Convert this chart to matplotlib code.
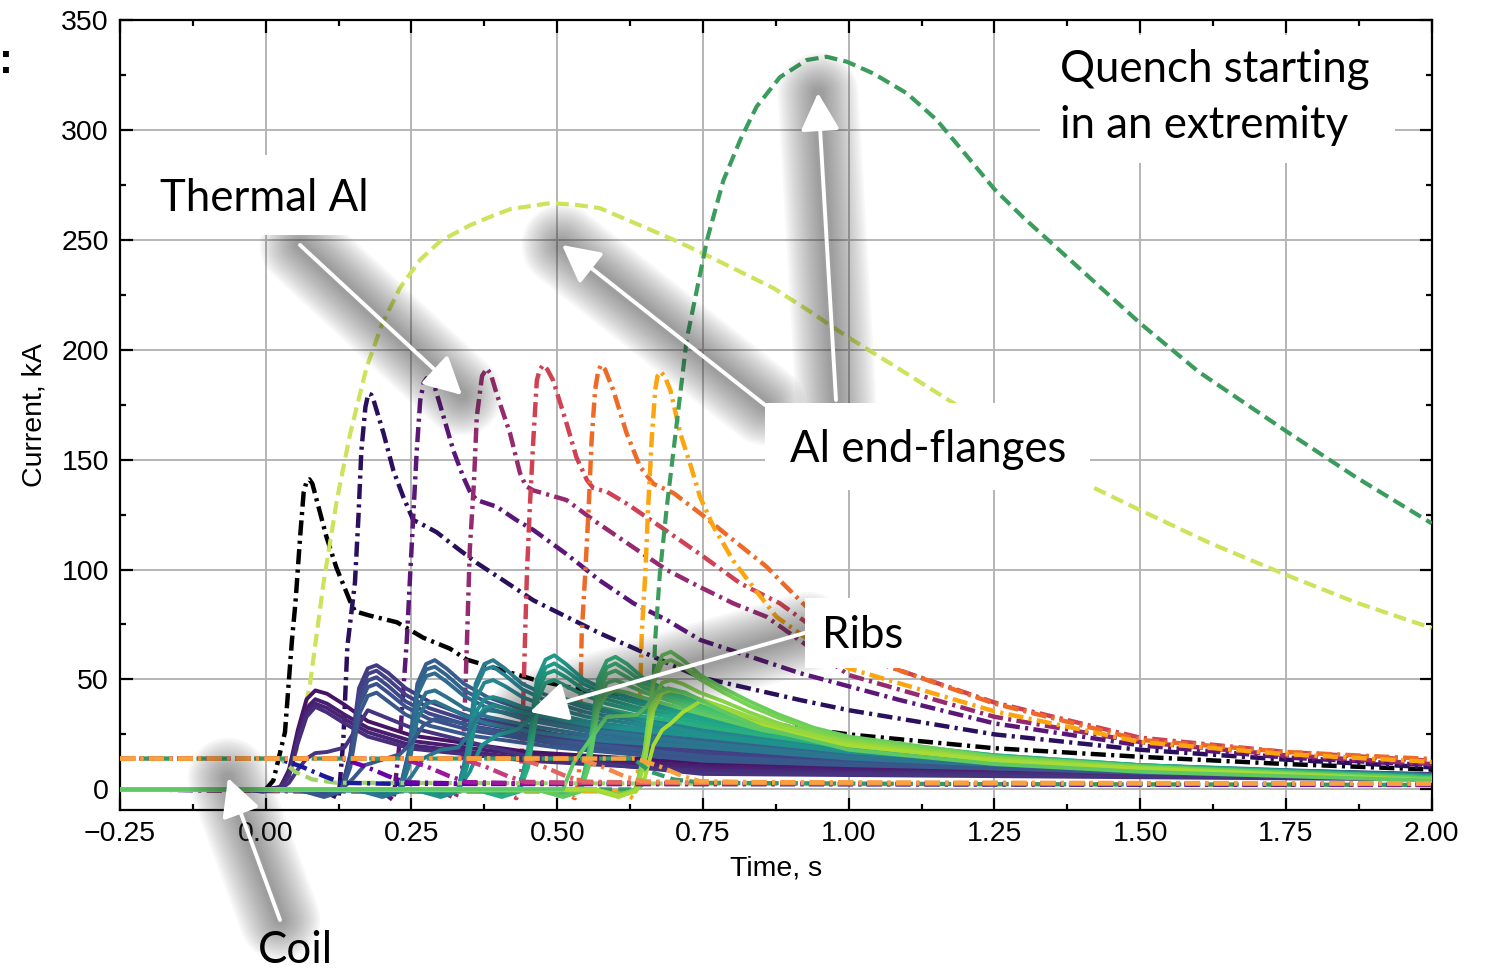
import matplotlib
matplotlib.use("Agg")
import matplotlib.pyplot as plt
from matplotlib.lines import Line2D
from matplotlib.patches import Rectangle
from matplotlib.ticker import MultipleLocator, FuncFormatter

# ---------------- data ----------------
# thermal Al, dash-dot curves
black_t = [-0.25, 0.0, 0.013, 0.033, 0.045, 0.051, 0.059, 0.065, 0.070, 0.075, 0.080, 0.087, 0.104, 0.121,
           0.144, 0.153, 0.179, 0.225, 0.27, 0.316, 0.345, 0.459, 0.545, 0.75, 0.86, 1.0, 1.25, 1.5, 1.75, 2.0]
black_i = [0, 0, 4, 26, 68, 85, 115, 135, 140, 141, 139, 132, 115, 101,
           86, 81, 79, 76, 69, 64, 59, 50, 45, 35, 30, 25, 18.7, 14.8, 11.5, 9]
indigo_t = [-0.25, 0.1, 0.125, 0.133, 0.14, 0.153, 0.159, 0.164, 0.171, 0.176, 0.181, 0.185, 0.202, 0.219,
            0.236, 0.253, 0.265, 0.293, 0.327, 0.362, 0.408, 0.459, 0.516, 0.573, 0.745, 0.917, 1.0, 1.25,
            1.5, 1.75, 2.0]
indigo_i = [0, -1, -4, 22, 65, 94, 124, 154, 174, 180, 179.5, 177, 162, 145,
            133, 122.5, 121, 117, 110, 103, 95, 86, 78.5, 71, 51, 40.6, 36, 25,
            18, 13.5, 10]
purple_t = [-0.25, 0.2, 0.219, 0.23, 0.242, 0.247, 0.253, 0.259, 0.265, 0.271, 0.276, 0.282, 0.29, 0.305,
            0.322, 0.339, 0.351, 0.362, 0.396, 0.43, 0.459, 0.516, 0.573, 0.631, 0.688, 0.745, 0.917, 1.088,
            1.25, 1.5, 1.75, 2.0]
purple_i = [0, -1, -5, 22, 68, 94, 124, 154, 177, 185, 187, 186, 183, 169.5,
            154, 142, 135, 131.6, 128.6, 122.5, 118, 107, 95, 84.6, 77, 68, 52.8, 40.6,
            30, 20, 14.5, 11]
magenta_t = [-0.25, 0.3, 0.325, 0.335, 0.339, 0.345, 0.35, 0.357, 0.362, 0.371, 0.379, 0.386, 0.396, 0.419,
             0.436, 0.446, 0.459, 0.476, 0.516, 0.562, 0.631, 0.688, 0.745, 0.802, 0.859, 1.0, 1.25, 1.5,
             1.75, 2.0]
magenta_i = [0, -1, -4, 3, 18, 66, 109, 139, 169.5, 188, 191.5, 189, 180, 162,
             144, 138, 136, 134.7, 131.6, 122.5, 110, 99.8, 92, 84.6, 78.5, 52, 33, 21.5,
             15.5, 11.5]
red_t = [-0.25, 0.41, 0.43, 0.438, 0.445, 0.448, 0.453, 0.459, 0.465, 0.47, 0.476, 0.483, 0.493, 0.516,
         0.533, 0.551, 0.562, 0.585, 0.619, 0.677, 0.745, 0.814, 0.882, 1.0, 1.25, 1.5, 1.75, 2.0]
red_i = [0, -1, -4, 4, 71, 98, 128.6, 159, 186, 191, 193, 191, 186, 166.5,
         151, 140.7, 137, 135.4, 130, 119.5, 107, 93.7, 84.6, 62, 39.5, 23.5, 17, 13]
orange_t = [-0.25, 0.51, 0.53, 0.537, 0.542, 0.548, 0.554, 0.559, 0.565, 0.57, 0.575, 0.582, 0.596, 0.619,
            0.642, 0.656, 0.665, 0.7, 0.745, 0.802, 0.859, 0.882, 1.0, 1.088, 1.25, 1.5, 1.75, 2.0]
orange_i = [0, -1, -4, 4, 71, 98, 128.6, 159, 181.7, 190, 193, 191, 181.7, 162,
            146.8, 142, 139, 134.7, 125.6, 113.4, 101.3, 95, 64, 54, 39, 22.5, 17, 13.8]
amber_t = [-0.25, 0.61, 0.63, 0.638, 0.645, 0.651, 0.656, 0.662, 0.668, 0.672, 0.677, 0.684, 0.694, 0.711,
           0.728, 0.745, 0.768, 0.802, 0.836, 0.876, 1.0, 1.25, 1.5, 1.75, 2.0]
amber_i = [0, -1, -4, 4, 71, 98, 128.6, 159, 181.7, 188, 190, 188, 181.7, 162,
           148, 133, 119.5, 104, 92, 78.5, 55, 35.5, 21.5, 16, 12.5]

# Al end-flanges, dashed curves
lime_t = [-0.25, 0.02, 0.035, 0.053, 0.076, 0.099, 0.122, 0.145, 0.173, 0.2, 0.23, 0.265, 0.3, 0.35, 0.39,
          0.42, 0.488, 0.53, 0.573, 0.642, 0.7, 0.75, 0.81, 0.871, 0.93, 0.997, 1.1, 1.19, 1.3, 1.414, 1.5,
          1.62, 1.75, 1.87, 2.0]
lime_i = [0, 0, 5, 18, 48, 93.7, 131.6, 162, 192, 212, 228, 241, 249.5, 256.6, 261,
          264, 266.7, 266, 264.4, 256.6, 250, 243.8, 236, 228, 218, 206, 189, 174, 156, 138, 127,
          112, 97.6, 85, 73.4]
green_t = [-0.25, 0.635, 0.645, 0.659, 0.665, 0.668, 0.676, 0.688, 0.705, 0.722, 0.757, 0.785, 0.814, 0.842,
           0.882, 0.928, 0.962, 0.997, 1.042, 1.1, 1.151, 1.2, 1.25, 1.3, 1.4, 1.5, 1.6, 1.75, 1.87, 2.0]
green_i = [0, 0, 2, 17.9, 46.7, 68, 98, 128.6, 166.5, 204.5, 250, 277, 295.5, 310.6,
           324, 331.8, 333.3, 331, 325.7, 316.6, 304.5, 289, 273, 260, 236, 212, 190, 163, 142, 121]

# ribs, solid curves (7 groups of 5)
g0_t = [-0.25, -0.045, -0.005, 0.025, 0.04, 0.055, 0.07, 0.085, 0.105, 0.135, 0.175, 0.25, 0.45, 0.75, 1.0, 1.25, 1.5, 2.0]
g0_i = [[0, 0, 0, 1, 9, 27, 41, 45, 43.5, 38.5, 31, 24.5, 17, 12, 10.5, 9, 8, 6.5],
        [0, 0, -0.5, 1, 8, 25, 37, 41, 39, 34, 28, 22, 15.5, 10.5, 9.5, 8.5, 7.5, 6],
        [0, 0, -0.5, 0.5, 7, 23, 35, 39, 37, 32, 26, 20, 14, 9.5, 8.5, 7.5, 7, 5.5],
        [0, 0, -1, 0.5, 6, 21, 33, 37.5, 35, 30, 24, 18.5, 13, 8.5, 7.5, 7, 6.5, 5],
        [0, 0, -1, 0, 3, 9, 14, 16.5, 17, 19, 36, 28, 15, 7, 6.5, 6, 5.5, 4.5]]
g1_t = [-0.25, 0.06, 0.1, 0.13, 0.145, 0.16, 0.175, 0.19, 0.21, 0.24, 0.28, 0.35, 0.5, 0.75, 1.0, 1.25, 1.5, 2.0]
g1_i = [[0, 0, -2, 0, 16, 46, 55, 56.5, 53, 46, 40, 33, 25, 18, 14.5, 12, 10, 7],
        [0, 0, -2.5, 0, 15, 44, 52.5, 54, 50, 43, 37, 31, 23.5, 16.5, 13.5, 11.5, 9.5, 6.5],
        [0, 0, -3, -0.5, 13, 41, 49.5, 51, 47, 40, 34.5, 29, 22, 15, 12.5, 10.5, 9, 6.5],
        [0, -0.5, -3, -0.5, 12, 38, 46.5, 48, 44, 37.5, 32, 27, 20.5, 14, 12, 10, 8.5, 6],
        [0, -0.5, -3.5, -1, 10, 34, 42.5, 44, 40, 34, 29, 24.5, 19, 13, 11, 9.5, 8, 5.5]]
g2_t = [-0.25, 0.16, 0.2, 0.23, 0.245, 0.26, 0.275, 0.29, 0.31, 0.34, 0.38, 0.45, 0.58, 0.75, 1.0, 1.25, 1.5, 2.0]
g2_i = [[0, 0, -2, 0, 17, 48, 57, 58.8, 55, 48, 42, 35.5, 28, 23.5, 17.5, 13.5, 10.5, 6.5],
        [0, 0, -2.5, 0, 16, 46, 54.5, 55.8, 52, 45, 39.5, 33.5, 26.5, 22, 16.5, 12.5, 10, 6.5],
        [0, 0, -3, -0.5, 14, 43, 51.5, 52.8, 49, 42.5, 37, 31.5, 25, 21, 15.5, 12, 9.5, 6],
        [0, -0.5, -3, -0.5, 12, 37, 44, 45, 42, 37, 33, 29, 23.5, 20, 15, 11.5, 9, 6],
        [0, -0.5, -3.5, -1, 10, 32, 39, 40, 37.5, 33.5, 30, 26.5, 22, 19, 14, 11, 8.5, 5.5]]
g3_t = [-0.25, 0.26, 0.3, 0.33, 0.345, 0.36, 0.375, 0.39, 0.41, 0.44, 0.48, 0.55, 0.65, 0.75, 1.0, 1.25, 1.5, 2.0]
g3_i = [[0, 0, -2, 0, 17, 48, 57, 58.8, 55, 48, 43, 37, 32, 29, 20, 14.5, 11, 6.5],
        [0, 0, -2.5, 0, 16, 46, 54.5, 55.8, 52, 45.5, 40.5, 35, 30.5, 27.5, 19, 14, 10.5, 6],
        [0, 0, -3, -0.5, 14, 41, 48.5, 49.7, 47, 42, 38, 33, 29, 26, 18, 13.5, 10, 6],
        [0, -0.5, -3, -0.5, 12, 35, 41, 42, 40.5, 37.5, 35, 31, 27.5, 25, 17.5, 13, 10, 5.5],
        [0, -0.5, -3.5, -1, 10, 31, 37, 38, 37, 35, 33, 29.5, 26.5, 24, 17, 12.5, 9.5, 5.5]]
g4_t = [-0.25, 0.365, 0.405, 0.435, 0.45, 0.465, 0.48, 0.495, 0.515, 0.545, 0.585, 0.64, 0.7, 0.75, 1.0, 1.25, 1.5, 2.0]
g4_i = [[0, 0, -2, 0, 18, 50, 59, 61, 57, 50, 45, 40.5, 37, 34.5, 22, 15.5, 11, 6],
        [0, 0, -2.5, 0, 17, 47, 55.5, 57.3, 54, 48, 43, 39, 35.5, 33, 21, 15, 10.5, 6],
        [0, 0, -3, -0.5, 15, 44, 52.5, 54, 51, 45.5, 41, 37, 34, 31.5, 20, 14.5, 10.5, 5.5],
        [0, -0.5, -3, -0.5, 13, 40, 48.5, 49.7, 47, 43, 39, 35.5, 32.5, 30, 19.5, 14, 10, 5.5],
        [0, -0.5, -3.5, -1, 10, 34, 41, 42, 41, 39, 36.5, 33.5, 31, 28.5, 19, 13.5, 10, 5]]
g5_t = [-0.25, 0.47, 0.51, 0.54, 0.555, 0.57, 0.585, 0.6, 0.62, 0.65, 0.69, 0.73, 0.78, 0.85, 1.0, 1.25, 1.5, 2.0]
g5_i = [[0, 0, -2, 0, 18, 50, 58.5, 60.3, 57, 50, 45, 41.5, 37.5, 31, 23, 15.5, 11, 5.5],
        [0, 0, -2.5, 0, 17, 47, 55.5, 57.3, 54, 48, 43.5, 40, 36, 30, 22, 15, 10.5, 5.5],
        [0, 0, -3, -0.5, 15, 44, 52.5, 54, 51, 46, 42, 38.5, 34.5, 29, 21.5, 14.5, 10.5, 5],
        [0, -0.5, -3, -0.5, 13, 40, 48.5, 49.7, 47.5, 44, 40.5, 37, 33.5, 28, 21, 14, 10, 5],
        [0, -0.5, -3.5, -1, 11, 36, 43.5, 45, 44, 41.5, 38.5, 35.5, 32, 27, 20, 13.5, 10, 5]]
g6_t = [-0.25, 0.565, 0.605, 0.635, 0.65, 0.665, 0.68, 0.695, 0.715, 0.745, 0.785, 0.83, 0.88, 0.94, 1.0, 1.25, 1.5, 2.0]
g6_i = [[0, 0, -2.5, 0, 18, 51, 61, 62.6, 59, 52, 46, 40, 34, 28, 24, 15, 10.5, 4.5],
        [0, 0, -3, 0, 17, 48, 57.5, 58.8, 56, 50, 44, 38, 32.5, 27, 23, 14.5, 10, 4.5],
        [0, 0, -3, -0.5, 14, 40, 48.5, 49.7, 48, 44, 40, 35, 30, 25.5, 22, 14, 10, 4],
        [0, -0.5, -3.5, -0.5, 12, 36, 44, 45, 44, 41, 37.5, 33, 28.5, 24.5, 21, 13.5, 9.5, 4],
        [0, 0, -3, -1, 5, 20, 27, 30, 35, 40, 36, 31, 27, 23, 20, 13, 9.5, 4]]
rib_t = [g0_t, g1_t, g2_t, g3_t, g4_t, g5_t, g6_t]
rib_i = [g0_i, g1_i, g2_i, g3_i, g4_i, g5_i, g6_i]

# ribs with a two-step rise (group they belong to, times, values)
step_grp = [2, 3, 4, 6]
step_t = [[-0.25, 0.13, 0.15, 0.17, 0.2, 0.23, 0.25, 0.27, 0.29, 0.32, 0.38, 0.5, 0.75, 1.0, 1.5, 2.0],
          [-0.25, 0.23, 0.25, 0.27, 0.3, 0.33, 0.345, 0.36, 0.38, 0.41, 0.47, 0.55, 0.75, 1.0, 1.5, 2.0],
          [-0.25, 0.33, 0.35, 0.37, 0.4, 0.43, 0.45, 0.47, 0.49, 0.52, 0.58, 0.65, 0.75, 1.0, 1.5, 2.0],
          [-0.25, 0.51, 0.528, 0.556, 0.585, 0.636, 0.653, 0.67, 0.69, 0.72, 0.78, 0.85, 1.0, 1.25, 1.5, 2.0]]
step_i = [[0, 0, 5, 11, 13.5, 16, 21, 29, 32, 31, 27, 22, 15, 11.5, 7.5, 5],
          [0, 0, 6, 14, 18, 19, 24, 32, 36, 35, 31, 27, 21, 14.5, 8.5, 5],
          [0, 0, 8, 20, 25, 27, 31, 38, 41, 40, 36, 31, 25, 17, 9, 5.5],
          [0, 0, 12, 22.4, 33, 33.8, 37.6, 44, 46, 44, 36, 28, 18, 11.5, 8, 4]]

# coil currents: 14 kA until the quench, then discharge
coil_t = [[-0.25, 0.02, 0.06, 0.10, 0.13, 0.22, 1.0, 2.0],
          [-0.25, 0.13, 0.17, 0.21, 0.24, 0.33, 1.0, 2.0],
          [-0.25, 0.235, 0.275, 0.315, 0.345, 0.435, 1.0, 2.0],
          [-0.25, 0.335, 0.375, 0.415, 0.445, 0.535, 1.0, 2.0],
          [-0.25, 0.435, 0.475, 0.515, 0.545, 0.635, 1.0, 2.0],
          [-0.25, 0.535, 0.575, 0.615, 0.645, 0.735, 1.0, 2.0],
          [-0.25, 0.635, 0.675, 0.715, 0.745, 0.835, 1.2, 2.0]]
coil_i = [[14, 14, 10.5, 6, 3, 2.5, 2.3, 2],
          [14, 14, 10.5, 6, 3.2, 2.7, 2.5, 2.2],
          [14, 14, 10.5, 6, 3.3, 2.8, 2.6, 2.3],
          [14, 14, 10.5, 6, 3.4, 3, 2.7, 2.4],
          [14, 14, 10.5, 6, 3.5, 3.1, 2.8, 2.5],
          [14, 14, 10.5, 6, 3.6, 3.2, 2.9, 2.6],
          [14, 14, 10.5, 6, 3.7, 3.3, 3.0, 2.7]]
coil_lime_t = [-0.25, 0.025, 0.05, 0.08, 0.12, 1.0, 2.0]
coil_lime_i = [14, 14, 8, 4.5, 3, 2.4, 2]
coil_green_t = [-0.25, 0.63, 0.66, 0.7, 0.75, 1.2, 2.0]
coil_green_i = [14, 14, 8, 4.5, 3, 2.4, 2]

xticks = [-0.25, 0.0, 0.25, 0.5, 0.75, 1.0, 1.25, 1.5, 1.75, 2.0]
yticks = [0, 50, 100, 150, 200, 250, 300, 350]

# ---------------- drawing ----------------
plt.rcParams["font.family"] = ["Liberation Sans", "DejaVu Sans"]
W, H = 1489, 975
fig = plt.figure(figsize=(W / 100, H / 100), dpi=100)
ax = fig.add_axes([120 / W, 1 - 810 / H, 1311.7 / W, 790 / H])

dd = (0, (3.4, 1.2, 0.7, 1.2))
ds = (0, (3.1, 1.5))

ta_curves = [(black_t, black_i, "#000000"), (indigo_t, indigo_i, "#2a0f5c"),
             (purple_t, purple_i, "#5b1677"), (magenta_t, magenta_i, "#952a70"),
             (red_t, red_i, "#cf4153"), (orange_t, orange_i, "#ee6a27"),
             (amber_t, amber_i, "#fca50f")]
for t, i, c in ta_curves:
    ax.plot(t, i, color=c, lw=3.2, ls=dd, zorder=3)
ax.plot(lime_t, lime_i, color="#cde35b", lw=3.0, ls=ds, zorder=3)
ax.plot(green_t, green_i, color="#3b9c5c", lw=3.0, ls=ds, zorder=3)

cmap = plt.get_cmap("viridis")
for g in range(7):
    for j, vals in enumerate(rib_i[g]):
        ax.plot(rib_t[g], vals, color=cmap(0.05 + 0.12 * g + 0.025 * j), lw=2.8, zorder=4)
    for k, sg in enumerate(step_grp):
        if sg == g:
            ax.plot(step_t[k], step_i[k], color=cmap(0.03 + 0.12 * g), lw=2.8, zorder=4)

coil_colors = ["#1b1a9c", "#6a00a8", "#9c179e", "#c33d80", "#e16462", "#f48849", "#f9a13e"]
ax.plot(coil_lime_t, coil_lime_i, color="#9ed36a", lw=3.0, ls=ds, zorder=5)
ax.plot(coil_green_t, coil_green_i, color="#2f9a6a", lw=3.0, ls=ds, zorder=5)
for t, i, c in zip(coil_t, coil_i, coil_colors):
    ax.plot(t, i, color=c, lw=3.2, ls=dd, zorder=5)

ax.set_xlim(-0.25, 2.0)
ax.set_ylim(-9.4, 350)
ax.set_xticks(xticks)
ax.set_yticks(yticks)
ax.xaxis.set_minor_locator(MultipleLocator(0.125))
ax.yaxis.set_minor_locator(MultipleLocator(25))
ax.xaxis.set_major_formatter(FuncFormatter(lambda v, p: f"{v:.2f}".replace("-", "\u2212")))
ax.grid(True, which="major", color="#b4b4b4", lw=1.4, zorder=0)
ax.set_axisbelow(True)
ax.tick_params(which="both", direction="in", top=True, right=True, width=1.6, labelsize=20.5, pad=8)
ax.tick_params(which="major", length=9)
ax.tick_params(which="minor", length=4.5)
for s in ax.spines.values():
    s.set_linewidth(1.6)
ax.set_xlabel("Time, s", fontsize=20.5, labelpad=6)
ax.set_ylabel("Current, kA", fontsize=20.5, labelpad=10)


def fx(px):
    return px / W


def fy(py):
    return 1 - py / H


def arrow(tail, head):
    xs = [fx(tail[0]), fx(head[0])]
    ys = [fy(tail[1]), fy(head[1])]
    # soft grey shadow: many wide, faint strokes stacked
    for n in range(16):
        ax.add_artist(Line2D(xs, ys, transform=fig.transFigure, color="#303030", lw=58 - 3.3 * n,
                             alpha=0.035, solid_capstyle="round", clip_on=False, zorder=8))
    ax.annotate("", xy=(xs[1], ys[1]), xytext=(xs[0], ys[0]), xycoords="figure fraction",
                textcoords="figure fraction", annotation_clip=False, zorder=9,
                arrowprops=dict(arrowstyle="-|>,head_length=1.15,head_width=0.6", color="white",
                                lw=2.8, mutation_scale=20, shrinkA=0, shrinkB=0))


def box(x0, y0, x1, y1):
    ax.add_artist(Rectangle((fx(x0), fy(y1)), (x1 - x0) / W, (y1 - y0) / H, transform=fig.transFigure,
                            fc="white", ec="none", clip_on=False, zorder=10))


def label(px, py, s):
    ax.text(fx(px), fy(py), s, transform=fig.transFigure, fontsize=31.5, family=["Lato", "DejaVu Sans"],
            ha="left", va="baseline", zorder=11, clip_on=False)


arrow((300, 245), (462, 395))
arrow((765, 405), (562, 245))
arrow((836, 400), (818, 93))
arrow((808, 632), (530, 712))
arrow((280, 920), (228, 778))

box(150, 155, 385, 235)
box(1040, 35, 1395, 163)
box(765, 403, 1090, 490)
box(805, 598, 930, 668)

label(160, 211, "Thermal Al")
label(1060, 82, "Quench starting")
label(1060, 138, "in an extremity")
label(790, 462, "Al end-flanges")
label(822, 648, "Ribs")
label(258, 963, "Coil")
fig.text(0.004, fy(62), ":", fontsize=30, fontweight="bold", ha="center", va="center")

fig.savefig("out.png", dpi=100)
